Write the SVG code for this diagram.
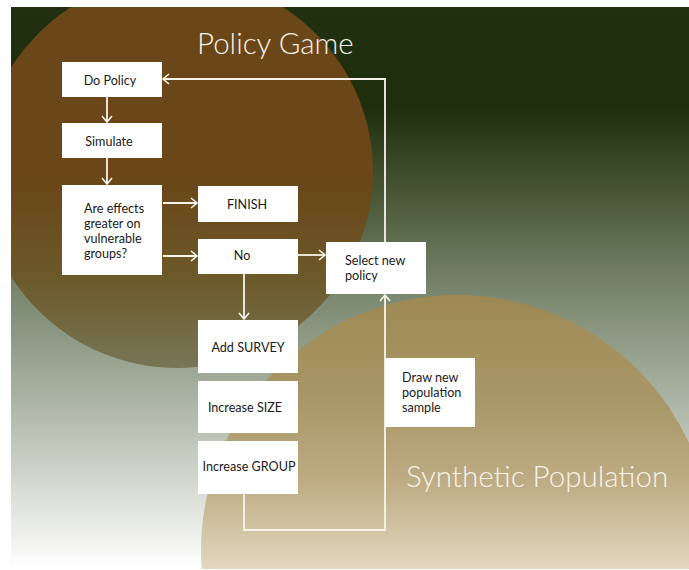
<svg xmlns="http://www.w3.org/2000/svg" width="689" height="570" viewBox="0 0 689 570">
  <defs>
    <linearGradient id="bgGrad" gradientUnits="userSpaceOnUse" x1="0" y1="7" x2="0" y2="569">
      <stop offset="0" stop-color="#203010"/>
      <stop offset="0.18" stop-color="#1f2f0d"/>
      <stop offset="0.34" stop-color="#4a5838"/>
      <stop offset="0.52" stop-color="#7d8a72"/>
      <stop offset="0.70" stop-color="#aab4a4"/>
      <stop offset="0.86" stop-color="#d8dcd4"/>
      <stop offset="1" stop-color="#ffffff"/>
    </linearGradient>
    <linearGradient id="brownGrad" gradientUnits="userSpaceOnUse" x1="0" y1="180" x2="0" y2="368">
      <stop offset="0" stop-color="#6a4618"/>
      <stop offset="0.5" stop-color="#6c5828"/>
      <stop offset="1" stop-color="#787656"/>
    </linearGradient>
    <linearGradient id="tanGrad" gradientUnits="userSpaceOnUse" x1="0" y1="295" x2="0" y2="569">
      <stop offset="0" stop-color="#9e8953"/>
      <stop offset="0.4" stop-color="#a99868"/>
      <stop offset="0.7" stop-color="#bfae86"/>
      <stop offset="1" stop-color="#e2d8c0"/>
    </linearGradient>
    <clipPath id="panel">
      <rect x="11" y="7" width="678" height="562"/>
    </clipPath>
    <marker id="arrow" viewBox="0 0 8 12" refX="7" refY="6" markerWidth="8" markerHeight="12" markerUnits="userSpaceOnUse" orient="auto">
      <path d="M1,1 L7,6 L1,11" fill="none" stroke="#f7f4ec" stroke-width="1.6"/>
    </marker>
    <style>
      .box { fill: #ffffff; }
      .label { font-family: Lato, "Open Sans", "Liberation Sans", sans-serif; font-size: 12.6px; fill: #1a1a1a; }
      .mid { text-anchor: middle; }
      .title { font-family: Lato, "Open Sans", "Liberation Sans", sans-serif; font-weight: 300; font-size: 29.5px; fill: #f7f3ea; }
      .link { fill: none; stroke: #f7f4ec; stroke-width: 1.8; }
    </style>
  </defs>

  <!-- backdrop -->
  <g id="backdrop" clip-path="url(#panel)">
    <rect x="11" y="7" width="678" height="562" fill="url(#bgGrad)"/>
    <circle cx="177" cy="172" r="196" fill="url(#brownGrad)"/>
    <circle cx="457" cy="551" r="256" fill="url(#tanGrad)"/>
  </g>

  <text class="title" x="197" y="54">Policy Game</text>
  <text class="title" x="406" y="487">Synthetic Population</text>

  <!-- connectors -->
  <g id="connectors">
    <path class="link" d="M107,97 V122" marker-end="url(#arrow)"/>
    <path class="link" d="M107,158 V184" marker-end="url(#arrow)"/>
    <path class="link" d="M163,203 H197" marker-end="url(#arrow)"/>
    <path class="link" d="M163,256 H197" marker-end="url(#arrow)"/>
    <path class="link" d="M298,255 H325" marker-end="url(#arrow)"/>
    <path class="link" d="M244,274 V319" marker-end="url(#arrow)"/>
    <path class="link" d="M385,242 V79 H163" marker-end="url(#arrow)"/>
    <path class="link" d="M244,494 V530 H385 V295" marker-end="url(#arrow)"/>
  </g>

  <!-- nodes -->
  <g id="do-policy">
    <rect class="box" x="62" y="62" width="100" height="35"/>
    <text class="label mid" x="110" y="85">Do Policy</text>
  </g>
  <g id="simulate">
    <rect class="box" x="62" y="123" width="100" height="35"/>
    <text class="label mid" x="109" y="146">Simulate</text>
  </g>
  <g id="question">
    <rect class="box" x="62" y="185" width="100" height="90"/>
    <text class="label" x="84" y="213">Are effects</text>
    <text class="label" x="84" y="228">greater on</text>
    <text class="label" x="84" y="243">vulnerable</text>
    <text class="label" x="84" y="258">groups?</text>
  </g>
  <g id="finish">
    <rect class="box" x="198" y="186" width="100" height="36"/>
    <text class="label mid" x="247" y="209">FINISH</text>
  </g>
  <g id="no">
    <rect class="box" x="198" y="239" width="100" height="35"/>
    <text class="label mid" x="242" y="260">No</text>
  </g>
  <g id="select-policy">
    <rect class="box" x="326" y="242" width="100" height="52"/>
    <text class="label" x="345" y="265">Select new</text>
    <text class="label" x="345" y="280">policy</text>
  </g>
  <g id="add-survey">
    <rect class="box" x="198" y="320" width="100" height="53"/>
    <text class="label mid" x="248" y="352">Add SURVEY</text>
  </g>
  <g id="increase-size">
    <rect class="box" x="198" y="381" width="100" height="52"/>
    <text class="label mid" x="245" y="412">Increase SIZE</text>
  </g>
  <g id="increase-group">
    <rect class="box" x="198" y="441" width="100" height="53"/>
    <text class="label mid" x="249" y="471">Increase GROUP</text>
  </g>
  <g id="draw-sample">
    <rect class="box" x="385" y="358" width="90" height="69"/>
    <text class="label" x="402" y="382">Draw new</text>
    <text class="label" x="402" y="397">population</text>
    <text class="label" x="402" y="412">sample</text>
  </g>
</svg>
